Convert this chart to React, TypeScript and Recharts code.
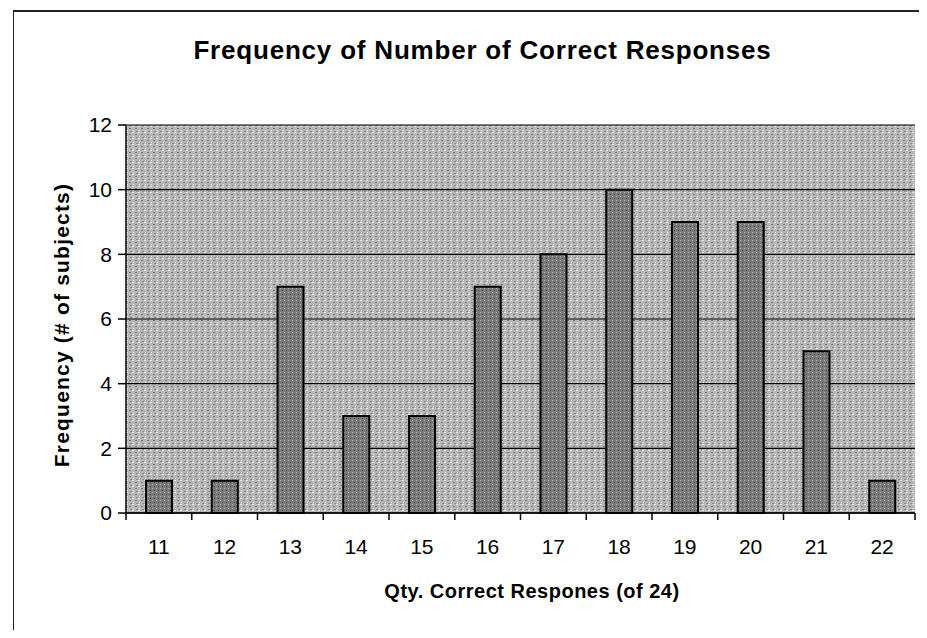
import React from "react";
import { Bar, BarChart, CartesianGrid, XAxis, YAxis } from "recharts";

const scores = ["11", "12", "13", "14", "15", "16", "17", "18", "19", "20", "21", "22"];
const frequency = [1, 1, 7, 3, 3, 7, 8, 10, 9, 9, 5, 1];
const yTicks = [0, 2, 4, 6, 8, 10, 12];

const data = scores.map((score, i) => ({ score, count: frequency[i] }));

const W = 927;
const H = 638;
const M = { top: 125, right: 12, bottom: 65, left: 66 };
const Y_AXIS_W = 60;
const PLOT_W = W - M.left - Y_AXIS_W - M.right;
const BAND = PLOT_W / scores.length;
const FONT = '"Liberation Sans", Arial, sans-serif';

// tick marks sit between categories, like the old Excel chart
const XTick = (props: any) => {
  const { x, y, payload, index } = props;
  const axisY = y - 8;
  const half = BAND / 2;
  return (
    <g>
      <line x1={x - half} x2={x - half} y1={axisY} y2={axisY + 7} stroke="#000" strokeWidth={1.5} />
      {index === scores.length - 1 && (
        <line x1={x + half} x2={x + half} y1={axisY} y2={axisY + 7} stroke="#000" strokeWidth={1.5} />
      )}
      <text x={x} y={y} dy={33} textAnchor="middle" fontSize={21} fill="#000" fontFamily={FONT}>
        {payload.value}
      </text>
    </g>
  );
};

export default function App() {
  return (
    <div style={{ position: "relative", width: W, height: H, margin: -8, fontFamily: FONT, background: "#fff" }}>
      <div
        style={{
          position: "absolute",
          left: 13,
          top: 10,
          width: 910,
          height: 623,
          border: "1.5px solid #222",
          borderTopWidth: 2,
        }}
      />
      <div
        style={{
          position: "absolute",
          left: 0,
          width: 965,
          top: 35,
          textAlign: "center",
          fontWeight: "bold",
          fontSize: 26,
          letterSpacing: 0.8,
        }}
      >
        Frequency of Number of Correct Responses
      </div>
      <div
        style={{
          position: "absolute",
          left: 62,
          top: 325,
          transform: "translate(-50%, -50%) rotate(-90deg)",
          whiteSpace: "nowrap",
          fontWeight: "bold",
          fontSize: 21,
          letterSpacing: 1.2,
        }}
      >
        Frequency (# of subjects)
      </div>
      <div
        style={{
          position: "absolute",
          left: 0,
          width: 1064,
          top: 580,
          textAlign: "center",
          fontWeight: "bold",
          fontSize: 20,
          letterSpacing: 0.5,
        }}
      >
        Qty. Correct Respones (of 24)
      </div>
      <BarChart width={W} height={H} data={data} margin={M} style={{ position: "absolute", left: 0, top: 0 }}>
        <defs>
          <pattern id="stipple" width="6" height="6" patternUnits="userSpaceOnUse">
            <rect width="6" height="6" fill="#b6b6b6" />
            <rect x="0" y="0" width="2" height="1" fill="#e6e6e6" />
            <rect x="3" y="2" width="2" height="1" fill="#7a7a7a" />
            <rect x="1" y="4" width="1" height="1" fill="#efefef" />
            <rect x="4" y="5" width="2" height="1" fill="#8c8c8c" />
          </pattern>
          <pattern id="barfill" width="4" height="4" patternUnits="userSpaceOnUse">
            <rect width="4" height="4" fill="#7a7a7a" />
            <rect x="0" y="0" width="1" height="1" fill="#b0b0b0" />
            <rect x="2" y="2" width="1" height="1" fill="#444" />
          </pattern>
        </defs>
        <CartesianGrid vertical={false} stroke="#000" strokeWidth={1.2} fill="url(#stipple)" fillOpacity={1} />
        <XAxis
          dataKey="score"
          height={60}
          tickLine={false}
          tickSize={6}
          tickMargin={2}
          axisLine={{ stroke: "#000", strokeWidth: 1.5 }}
          tick={<XTick />}
          interval={0}
        />
        <YAxis
          width={Y_AXIS_W}
          domain={[0, 12]}
          ticks={yTicks}
          interval={0}
          tickSize={8}
          tickMargin={6}
          tickLine={{ stroke: "#000", strokeWidth: 1.5 }}
          axisLine={{ stroke: "#000", strokeWidth: 1.5 }}
          tick={{ fill: "#000", fontSize: 21, fontFamily: FONT }}
        />
        <YAxis
          yAxisId="right"
          orientation="right"
          width={0}
          tick={false}
          tickLine={false}
          axisLine={{ stroke: "#000", strokeWidth: 1.5 }}
        />
        <Bar
          dataKey="count"
          barSize={26}
          fill="url(#barfill)"
          stroke="#000"
          strokeWidth={2}
          isAnimationActive={false}
        />
      </BarChart>
    </div>
  );
}
